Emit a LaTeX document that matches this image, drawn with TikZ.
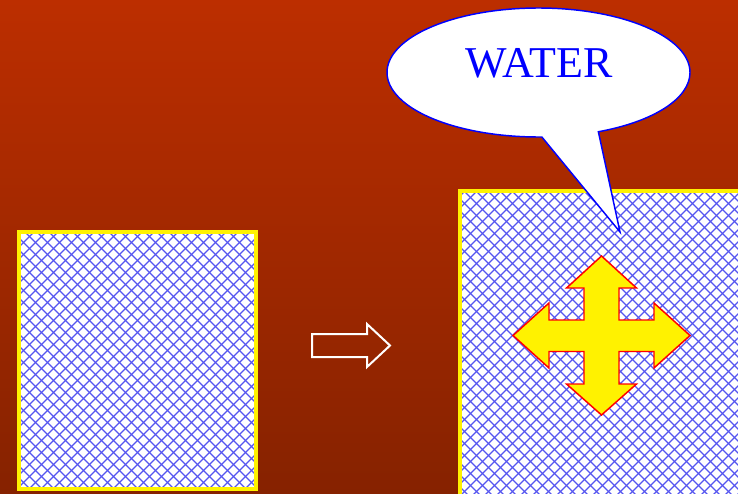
\documentclass[tikz,border=0pt]{standalone}
\usepackage{fontspec}
\setmainfont{Liberation Serif}
\usepackage{tikz}
\usetikzlibrary{shapes,shapes.callouts,positioning,calc}

\definecolor{bgtop}{RGB}{188,46,0}
\definecolor{bgbottom}{RGB}{134,34,0}
\definecolor{hatchblue}{RGB}{85,85,240}

\begin{document}
\begin{tikzpicture}[
  x=0.75pt, y=-0.75pt,
  hatchline/.style={hatchblue, line width=1pt},
  tank/.style={rectangle, draw=yellow, fill=white, line width=3pt, inner sep=0pt,
    path picture={
      \foreach \c in {-1200,-1188,...,1200} {
        \draw[hatchline] (\c,-400) -- ++(800,800);
        \draw[hatchline] (\c,-400) -- ++(-800,800);
      }
    }},
  bubble/.style={ellipse callout, draw=blue, fill=white, line width=1.1pt, inner sep=0pt}
]

  % Background
  \useasboundingbox (0,0) rectangle (738,493);
  \shade[top color=bgtop, bottom color=bgbottom] (0,0) rectangle (738,493);

  % Tanks
  \node[tank, minimum width=177.75pt, minimum height=192.75pt] (dry) at (137.5,360.5) {};
  \node[tank, minimum width=213.75pt, minimum height=231.75pt] (wet) at (602.5,345.5) {};

  % Arrow between
  \draw[white, line width=1.5pt, line join=miter]
    (312,334) -- (367,334) -- (367,324) -- (390,345.5) -- (367,367) -- (367,357) -- (312,357) -- cycle;

  % Swelling
  \draw[red, fill=yellow, line width=1.1pt]
    (601.5,256) -- (636.5,288) -- (619,288) -- (619,320) -- (654,320) -- (654,303)
    -- (690,335.5) -- (654,368) -- (654,351.5) -- (619,351.5) -- (619,384)
    -- (636.5,384) -- (601.5,415) -- (566.5,384) -- (584,384) -- (584,351.5)
    -- (549,351.5) -- (549,368) -- (513,335.5) -- (549,303) -- (549,320)
    -- (584,320) -- (584,288) -- (566.5,288) -- cycle;

  % Callout
  \node[bubble, minimum width=227.25pt, minimum height=96.75pt,
    callout absolute pointer={(620,232)}, callout pointer arc=22] (bubble) at (538.5,72.5) {};
  \node[text=blue, font=\fontsize{33}{36}\selectfont, inner sep=0pt] (water) at (539,63) {WATER};

\end{tikzpicture}
\end{document}
